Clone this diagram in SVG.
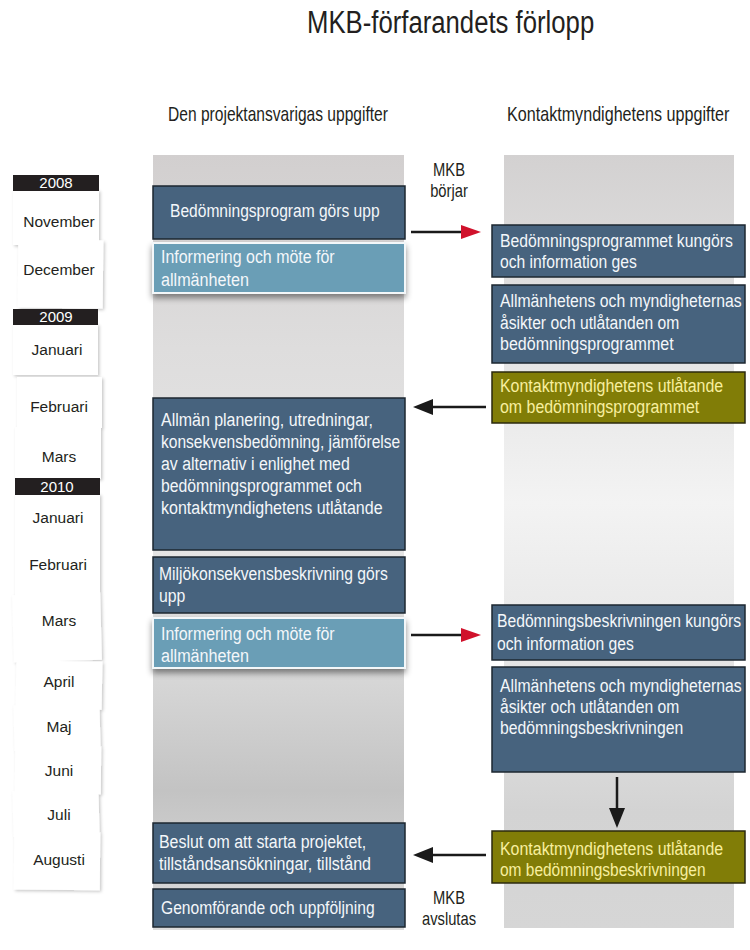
<svg xmlns="http://www.w3.org/2000/svg" width="750" height="950" viewBox="0 0 750 950">
  <style>
    .title { font-family: "Liberation Sans", Arial, sans-serif; font-size: 31px; fill: #231f20; }
    .head { font-family: "Liberation Sans", Arial, sans-serif; font-size: 20px; fill: #231f20; }
    .bt { font-family: "Liberation Sans", Arial, sans-serif; font-size: 19px; fill: #f4f7fa; }
    .ot { font-family: "Liberation Sans", Arial, sans-serif; font-size: 19px; fill: #f8ef9f; }
    .mkb { font-family: "Liberation Sans", Arial, sans-serif; font-size: 18px; fill: #231f20; text-anchor: middle; }
    .month { font-family: "Liberation Sans", Arial, sans-serif; font-size: 15.5px; fill: #231f20; text-anchor: middle; }
    .year { font-family: "Liberation Sans", Arial, sans-serif; font-size: 15px; fill: #ffffff; text-anchor: middle; }
    .dark { fill: #47637e; stroke: #1d2731; stroke-width: 1.5; }
    .light { fill: #6b9eb6; stroke: #f3f7f9; stroke-width: 2; }
    .olive { fill: #817d07; stroke: #2b2a0e; stroke-width: 1.5; }
    .card { fill: #ffffff; }
    .bar { fill: #231f20; }
    .conn { stroke: #1a1a1a; stroke-width: 2.5; fill: none; }
  </style>
  <defs>
    <linearGradient id="gL" x1="0" y1="0" x2="0" y2="1">
      <stop offset="0" stop-color="#d2cfcf"/>
      <stop offset="0.25" stop-color="#dedddd"/>
      <stop offset="0.5" stop-color="#e6e6e6"/>
      <stop offset="0.68" stop-color="#d6d6d6"/>
      <stop offset="0.82" stop-color="#c3c3c3"/>
      <stop offset="0.9" stop-color="#cfcfcf"/>
      <stop offset="1" stop-color="#dcdcdc"/>
    </linearGradient>
    <linearGradient id="gR" x1="0" y1="0" x2="0" y2="1">
      <stop offset="0" stop-color="#d3d1d1"/>
      <stop offset="0.25" stop-color="#e4e4e4"/>
      <stop offset="0.45" stop-color="#f3f3f3"/>
      <stop offset="0.7" stop-color="#e2e2e2"/>
      <stop offset="0.85" stop-color="#d3d3d3"/>
      <stop offset="1" stop-color="#d6d6d6"/>
    </linearGradient>
    <filter id="sh" x="-10%" y="-20%" width="120%" height="160%">
      <feDropShadow dx="0" dy="4" stdDeviation="3" flood-color="#000" flood-opacity="0.45"/>
    </filter>
    <filter id="cs" x="-15%" y="-15%" width="130%" height="130%">
      <feDropShadow dx="1.5" dy="1.5" stdDeviation="1.8" flood-color="#000" flood-opacity="0.22"/>
    </filter>
    <marker id="red" markerUnits="userSpaceOnUse" markerWidth="22" markerHeight="16" refX="0" refY="7" orient="auto">
      <path d="M0,0 L20,7 L0,14 Z" fill="#d0112b"/>
    </marker>
    <marker id="blk" markerUnits="userSpaceOnUse" markerWidth="22" markerHeight="18" refX="0" refY="8" orient="auto">
      <path d="M0,0 L20,8 L0,16 Z" fill="#1a1a1a"/>
    </marker>
  </defs>

  <rect width="750" height="950" fill="#ffffff"/>

  <g id="headings">
    <g transform="matrix(0.8,0,0,1,61.4,0)">
      <text class="title" x="307" y="33" textLength="359" lengthAdjust="spacingAndGlyphs">MKB-förfarandets förlopp</text>
    </g>
    <g transform="matrix(0.78,0,0,1,36.96,0)">
      <text class="head" x="168" y="121" textLength="282" lengthAdjust="spacingAndGlyphs">Den projektansvarigas uppgifter</text>
    </g>
    <g transform="matrix(0.78,0,0,1,111.54,0)">
      <text class="head" x="507" y="121" textLength="285" lengthAdjust="spacingAndGlyphs">Kontaktmyndighetens uppgifter</text>
    </g>
  </g>

  <g id="columns">
    <rect x="153" y="155" width="251" height="775" fill="url(#gL)"/>
    <rect x="504" y="155" width="230" height="773" fill="url(#gR)"/>
  </g>

  <g id="calendar">
    <g filter="url(#cs)">
      <rect class="card" x="13" y="190" width="86" height="55"/>
      <rect class="card" x="18" y="240" width="85" height="68" transform="rotate(0.6 60 274)"/>
      <rect class="card" x="13" y="324" width="85" height="51"/>
      <rect class="card" x="17" y="377" width="85" height="51"/>
      <rect class="card" x="15" y="427" width="86" height="52"/>
      <rect class="card" x="15" y="494" width="85" height="44"/>
      <rect class="card" x="15" y="537" width="85" height="59"/>
      <rect class="card" x="13" y="594" width="88" height="67" transform="rotate(-1.5 57 627)"/>
      <rect class="card" x="16" y="661" width="86" height="48" transform="rotate(1 59 685)"/>
      <rect class="card" x="14" y="704" width="86" height="46" transform="rotate(-1.5 57 727)"/>
      <rect class="card" x="15" y="746" width="86" height="48" transform="rotate(0.5 58 770)"/>
      <rect class="card" x="13" y="790" width="86" height="46" transform="rotate(-1.5 56 813)"/>
      <rect class="card" x="14" y="832" width="86" height="58" transform="rotate(0.5 57 861)"/>
    </g>
    <rect class="bar" x="13" y="175" width="86" height="16"/>
    <text class="year" x="56" y="188">2008</text>
    <rect class="bar" x="13" y="309" width="85" height="16"/>
    <text class="year" x="56" y="322">2009</text>
    <rect class="bar" x="15" y="478" width="85" height="17"/>
    <text class="year" x="57" y="492">2010</text>
    <text class="month" x="59" y="227">November</text>
    <text class="month" x="59" y="275">December</text>
    <text class="month" x="57" y="355">Januari</text>
    <text class="month" x="59" y="412">Februari</text>
    <text class="month" x="59" y="462">Mars</text>
    <text class="month" x="58" y="523">Januari</text>
    <text class="month" x="58" y="570">Februari</text>
    <text class="month" x="59" y="626">Mars</text>
    <text class="month" x="59" y="687">April</text>
    <text class="month" x="59" y="732">Maj</text>
    <text class="month" x="59" y="776">Juni</text>
    <text class="month" x="59" y="820">Juli</text>
    <text class="month" x="59" y="865">Augusti</text>
  </g>

  <g id="L1">
    <rect class="dark" x="153" y="186" width="252" height="53"/>
    <g transform="matrix(0.8,0,0,1,34,0)">
      <text class="bt" x="170" y="217" textLength="262" lengthAdjust="spacingAndGlyphs">Bedömningsprogram görs upp</text>
    </g>
  </g>
  <g id="L2">
    <rect class="light" x="153" y="243" width="252" height="50" filter="url(#sh)"/>
    <g transform="matrix(0.8,0,0,1,32.2,0)">
      <text class="bt" x="161" y="263" textLength="217" lengthAdjust="spacingAndGlyphs">Informering och möte för</text>
      <text class="bt" x="161" y="286" textLength="110" lengthAdjust="spacingAndGlyphs">allmänheten</text>
    </g>
  </g>
  <g id="L3">
    <rect class="dark" x="153" y="398" width="252" height="152"/>
    <g transform="matrix(0.8,0,0,1,32.2,0)">
      <text class="bt" x="161" y="426" textLength="265" lengthAdjust="spacingAndGlyphs">Allmän planering, utredningar,</text>
      <text class="bt" x="161" y="448" textLength="299" lengthAdjust="spacingAndGlyphs">konsekvensbedömning, jämförelse</text>
      <text class="bt" x="161" y="470" textLength="236" lengthAdjust="spacingAndGlyphs">av alternativ i enlighet med</text>
      <text class="bt" x="161" y="492" textLength="251" lengthAdjust="spacingAndGlyphs">bedömningsprogrammet och</text>
      <text class="bt" x="161" y="514" textLength="277" lengthAdjust="spacingAndGlyphs">kontaktmyndighetens utlåtande</text>
    </g>
  </g>
  <g id="L4">
    <rect class="dark" x="153" y="557" width="252" height="56"/>
    <g transform="matrix(0.8,0,0,1,31.8,0)">
      <text class="bt" x="159" y="580" textLength="286" lengthAdjust="spacingAndGlyphs">Miljökonsekvensbeskrivning görs</text>
      <text class="bt" x="159" y="602" textLength="33" lengthAdjust="spacingAndGlyphs">upp</text>
    </g>
  </g>
  <g id="L5">
    <rect class="light" x="153" y="618" width="252" height="50" filter="url(#sh)"/>
    <g transform="matrix(0.8,0,0,1,32.2,0)">
      <text class="bt" x="161" y="640" textLength="217" lengthAdjust="spacingAndGlyphs">Informering och möte för</text>
      <text class="bt" x="161" y="662" textLength="110" lengthAdjust="spacingAndGlyphs">allmänheten</text>
    </g>
  </g>
  <g id="L6">
    <rect class="dark" x="153" y="823" width="252" height="60"/>
    <g transform="matrix(0.8,0,0,1,31.8,0)">
      <text class="bt" x="159" y="848" textLength="259" lengthAdjust="spacingAndGlyphs">Beslut om att starta projektet,</text>
      <text class="bt" x="159" y="870" textLength="265" lengthAdjust="spacingAndGlyphs">tillståndsansökningar, tillstånd</text>
    </g>
  </g>
  <g id="L7">
    <rect class="dark" x="153" y="889" width="252" height="38"/>
    <g transform="matrix(0.8,0,0,1,32.2,0)">
      <text class="bt" x="161" y="914" textLength="267" lengthAdjust="spacingAndGlyphs">Genomförande och uppföljning</text>
    </g>
  </g>

  <g id="R1">
    <rect class="dark" x="492" y="225" width="253" height="52"/>
    <g transform="matrix(0.8,0,0,1,100,0)">
      <text class="bt" x="500" y="247" textLength="291" lengthAdjust="spacingAndGlyphs">Bedömningsprogrammet kungörs</text>
      <text class="bt" x="500" y="268" textLength="171" lengthAdjust="spacingAndGlyphs">och information ges</text>
    </g>
  </g>
  <g id="R2">
    <rect class="dark" x="492" y="285" width="253" height="78"/>
    <g transform="matrix(0.8,0,0,1,100,0)">
      <text class="bt" x="500" y="307" textLength="302" lengthAdjust="spacingAndGlyphs">Allmänhetens och myndigheternas</text>
      <text class="bt" x="500" y="329" textLength="224" lengthAdjust="spacingAndGlyphs">åsikter och utlåtanden om</text>
      <text class="bt" x="500" y="350" textLength="217" lengthAdjust="spacingAndGlyphs">bedömningsprogrammet</text>
    </g>
  </g>
  <g id="R3">
    <rect class="olive" x="492" y="372" width="253" height="51"/>
    <g transform="matrix(0.8,0,0,1,100,0)">
      <text class="ot" x="500" y="392" textLength="279" lengthAdjust="spacingAndGlyphs">Kontaktmyndighetens utlåtande</text>
      <text class="ot" x="500" y="413" textLength="249" lengthAdjust="spacingAndGlyphs">om bedömningsprogrammet</text>
    </g>
  </g>
  <g id="R4">
    <rect class="dark" x="492" y="605" width="253" height="55"/>
    <g transform="matrix(0.8,0,0,1,99.4,0)">
      <text class="bt" x="497" y="627" textLength="305" lengthAdjust="spacingAndGlyphs">Bedömningsbeskrivningen kungörs</text>
      <text class="bt" x="497" y="650" textLength="171" lengthAdjust="spacingAndGlyphs">och information ges</text>
    </g>
  </g>
  <g id="R5">
    <rect class="dark" x="492" y="667" width="253" height="105"/>
    <g transform="matrix(0.8,0,0,1,100,0)">
      <text class="bt" x="500" y="692" textLength="302" lengthAdjust="spacingAndGlyphs">Allmänhetens och myndigheternas</text>
      <text class="bt" x="500" y="713" textLength="224" lengthAdjust="spacingAndGlyphs">åsikter och utlåtanden om</text>
      <text class="bt" x="500" y="734" textLength="229" lengthAdjust="spacingAndGlyphs">bedömningsbeskrivningen</text>
    </g>
  </g>
  <g id="R6">
    <rect class="olive" x="492" y="831" width="253" height="52"/>
    <g transform="matrix(0.8,0,0,1,100,0)">
      <text class="ot" x="500" y="855" textLength="279" lengthAdjust="spacingAndGlyphs">Kontaktmyndighetens utlåtande</text>
      <text class="ot" x="500" y="876" textLength="257" lengthAdjust="spacingAndGlyphs">om bedömningsbeskrivningen</text>
    </g>
  </g>

  <g id="labels" transform="matrix(0.82,0,0,1,80.82,0)">
    <text class="mkb" x="449" y="176">MKB</text>
    <text class="mkb" x="449" y="197">börjar</text>
    <text class="mkb" x="449" y="904">MKB</text>
    <text class="mkb" x="449" y="925">avslutas</text>
  </g>

  <g id="connectors">
    <line class="conn" x1="411" y1="232" x2="461" y2="232" marker-end="url(#red)"/>
    <line class="conn" x1="486" y1="407" x2="433" y2="407" marker-end="url(#blk)"/>
    <line class="conn" x1="411" y1="635" x2="461" y2="635" marker-end="url(#red)"/>
    <line class="conn" x1="617" y1="777" x2="617" y2="808" marker-end="url(#blk)"/>
    <line class="conn" x1="486" y1="855" x2="433" y2="855" marker-end="url(#blk)"/>
  </g>
</svg>
